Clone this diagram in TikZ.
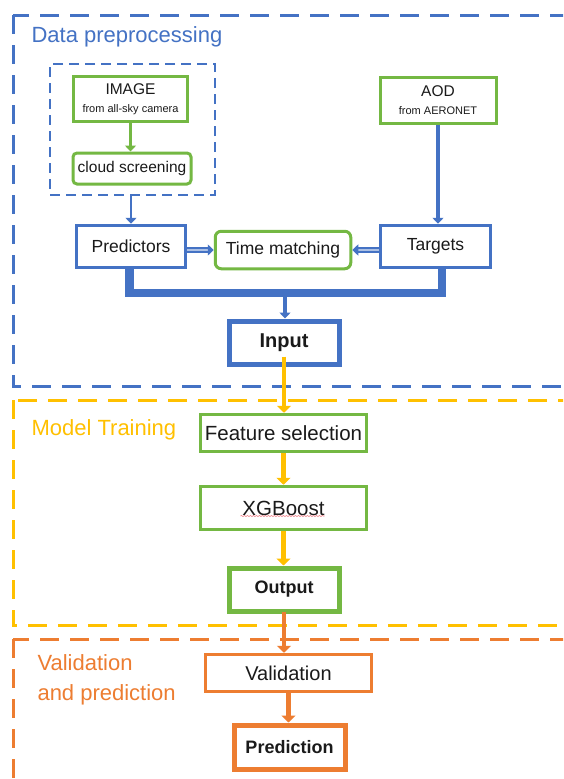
\documentclass[tikz,border=0pt]{standalone}
\usepackage{fontspec}
\setmainfont{Liberation Sans}
\usetikzlibrary{arrows.meta,calc,decorations.pathmorphing}
\definecolor{ppblue}{HTML}{4472C4}
\definecolor{ppgreen}{HTML}{74B843}
\definecolor{ppyellow}{HTML}{FFC000}
\definecolor{pporange}{HTML}{ED7D31}
\definecolor{ppink}{HTML}{1A1A1A}
\definecolor{ppred}{HTML}{E8505B}
\tikzset{
  box/.style={rectangle,draw,fill=white,inner sep=0pt,text=ppink,line width=3pt,align=center,font=\fontsize{17.5}{20}\selectfont},
  bluebox/.style={box,draw=ppblue},
  greenbox/.style={box,draw=ppgreen},
  orangebox/.style={box,draw=pporange},
  keybox/.style={line width=5pt,font=\bfseries\fontsize{18}{21}\selectfont},
  stage/.style={dash pattern=on 19pt off 11pt,line width=3pt},
  stagetitle/.style={anchor=west,align=left,font=\fontsize{22}{30}\selectfont},
  flow/.style={-{Triangle[length=7pt,width=14pt]},line width=4.5pt},
  thinflow/.style={-{Triangle[length=6pt,width=11pt]},line width=3pt},
  dflow/.style={-{Triangle[length=6pt,width=11pt]},draw=ppblue,double=ppblue!45,double distance=2.2pt,line width=1.8pt},
}

\begin{document}
\begin{tikzpicture}[x=1pt,y=-1pt]
  \useasboundingbox (0,0) rectangle (563,779);
  \fill[white] (0,0) rectangle (563,779);
  \clip (0,0) rectangle (563,779);
  % stage frames
  \draw[stage,draw=ppblue] (13,15) rectangle (580,386);
  \draw[stage,draw=ppyellow] (13,400) rectangle (580,625);
  \draw[stage,draw=pporange] (13,639) rectangle (580,800);
  \node[stagetitle,text=ppblue] (dptitle) at (28,37) {Data preprocessing};
  \node[stagetitle,text=ppyellow] (mttitle) at (28,430) {Model Training};
  \node[stagetitle,text=pporange] (vptitle) at (34,680) {Validation\\and prediction};
  % data preprocessing
  \node[draw=ppblue,dash pattern=on 10pt off 6pt,line width=2pt,minimum width=165pt,minimum height=131pt] (camgroup) at (132.5,129.5) {};
  \node[greenbox,minimum width=114.5pt,minimum height=45.5pt,font=\fontsize{15.5}{18}\selectfont] (img) at (130.5,99) {IMAGE\\{\fontsize{11}{12}\selectfont from all-sky camera}};
  \node[greenbox,rounded corners=4pt,minimum width=118pt,minimum height=31pt,font=\fontsize{15.5}{18}\selectfont] (cloud) at (132,168.5) {cloud screening};
  \node[greenbox,minimum width=116pt,minimum height=46pt,font=\fontsize{15.5}{18}\selectfont] (aod) at (438,100) {AOD\\{\fontsize{11}{12}\selectfont from AERONET}};
  \node[bluebox,minimum width=109.5pt,minimum height=42.5pt] (pred) at (131,246.5) {Predictors};
  \node[greenbox,rounded corners=6pt,minimum width=135.5pt,minimum height=37.5pt] (tm) at (283,250) {Time matching};
  \node[bluebox,minimum width=110.5pt,minimum height=42.5pt] (targ) at (435.5,246.5) {Targets};
  \coordinate (merge) at (285,293);
  \node[bluebox,keybox,minimum width=110pt,minimum height=43pt,font=\bfseries\fontsize{20}{24}\selectfont] (input) at (284,342.5) {Input};
  \draw[thinflow,draw=ppgreen] (img.south) -- (img.south |- cloud.north);
  \draw[thinflow,draw=ppblue,line width=2.2pt] (camgroup.south -| pred.north) -- (pred.north);
  \draw[thinflow,draw=ppblue,line width=3.5pt] (aod.south) -- (aod.south |- targ.north);
  \draw[dflow] (pred.east |- tm.west) -- (tm.west);
  \draw[dflow] (targ.west |- tm.east) -- (tm.east);
  \draw[draw=ppblue,line width=8.5pt] ([xshift=-1.5pt]pred.south) |- (merge) -| ([xshift=6.5pt]targ.south);
  \draw[thinflow,draw=ppblue,line width=3.5pt] (merge) -- (merge |- input.north);
  % model training
  \node[greenbox,minimum width=166.5pt,minimum height=37.5pt,font=\fontsize{20.5}{24}\selectfont] (feat) at (283.5,433) {Feature selection};
  \node[greenbox,minimum width=166.5pt,minimum height=43.5pt,font=\fontsize{20.5}{24}\selectfont] (xgb) at (283.5,508) {XGBoost};
  \draw[ppred!70,line width=0.6pt,decorate,decoration={snake,amplitude=0.6pt,segment length=3pt}] ($(xgb.center)+(-43,8)$) -- ($(xgb.center)+(41,8)$);
  \node[greenbox,keybox,minimum width=110pt,minimum height=43pt] (output) at (284,589.5) {Output};
  \draw[flow,draw=ppyellow] ([yshift=10pt]input.south) -- (input.south |- feat.north);
  \draw[flow,draw=ppyellow] (feat.south) -- (feat.south |- xgb.north);
  \draw[flow,draw=ppyellow] (xgb.south) -- (xgb.south |- output.north);
  % validation and prediction
  \node[orangebox,minimum width=166.5pt,minimum height=37.5pt,font=\fontsize{20}{24}\selectfont] (valid) at (288.5,673) {Validation};
  \node[orangebox,keybox,minimum width=111pt,minimum height=44pt] (predict) at (289.5,747) {Prediction};
  \draw[flow,draw=pporange] ([yshift=2pt]output.south) -- (output.south |- valid.north);
  \draw[flow,draw=pporange] (valid.south) -- (valid.south |- predict.north);
\end{tikzpicture}
\end{document}
